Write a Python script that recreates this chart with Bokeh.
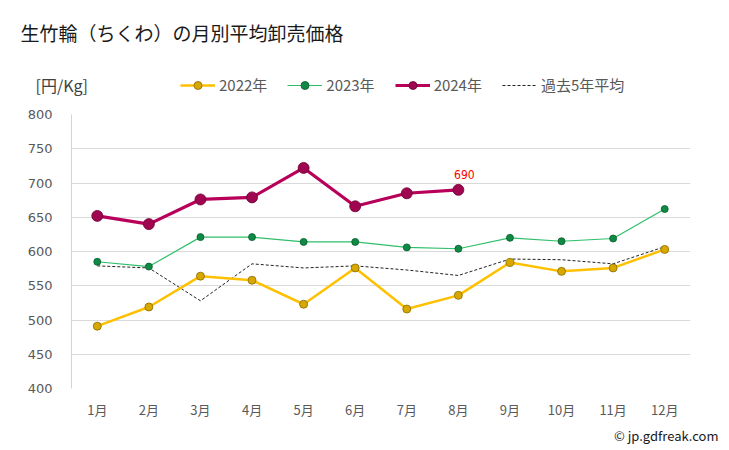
from bokeh.plotting import figure
from bokeh.layouts import column
from bokeh.models import ColumnDataSource, Legend, LegendItem, FactorRange, Title, Label, Range1d
from bokeh.core.properties import value
from bokeh.embed import file_html
from bokeh.resources import INLINE

months = ["1月", "2月", "3月", "4月", "5月", "6月", "7月", "8月", "9月", "10月", "11月", "12月"]
v2022 = [491, 519, 564, 558, 523, 576, 516, 536, 584, 571, 576, 603]
v2023 = [585, 578, 621, 621, 614, 614, 606, 604, 620, 615, 619, 662]
v2024 = [652, 640, 676, 679, 722, 666, 685, 690]
avg5 = [579, 576, 528, 582, 576, 579, 573, 565, 589, 588, 582, 607]
y_ticks = [400, 450, 500, 550, 600, 650, 700, 750, 800]
series_names = ["2022年", "2023年", "2024年", "過去5年平均"]

FONT = "Noto Sans CJK JP"
W = 725
HEAD_H = 100

STY = {
    "2022年": dict(line=dict(line_color="#ffc000", line_width=2.5),
                  mark=dict(size=8, fill_color="#d6a800", line_color="#8a6a00", line_width=0.8)),
    "2023年": dict(line=dict(line_color="#2fbf6a", line_width=1.2),
                  mark=dict(size=7, fill_color="#0e8a45", line_color="#075a2c", line_width=0.8)),
    "2024年": dict(line=dict(line_color="#b8005a", line_width=3.2),
                  mark=dict(size=11, fill_color="#a0054f", line_color="#6a0034", line_width=0.8)),
    "過去5年平均": dict(line=dict(line_color="#222222", line_width=1, line_dash="3 2"), mark=None),
}
data = {"2022年": v2022, "2023年": v2023, "2024年": v2024, "過去5年平均": avg5}

# ---------- header (title, unit, legend) ----------
head = figure(width=W, height=HEAD_H, x_range=Range1d(0, W), y_range=Range1d(HEAD_H, 0),
              x_axis_type=None, y_axis_type=None, output_backend="svg", toolbar_location=None,
              min_border=0, min_border_left=0, min_border_right=0, min_border_top=0, min_border_bottom=0)
head.frame_align = False
head.outline_line_color = None
head.xgrid.visible = False
head.ygrid.visible = False
head.add_layout(Label(x=20, y=32, text="生竹輪（ちくわ）の月別平均卸売価格", text_font=FONT,
                      text_font_size="19px", text_color="#1a1a1a", text_baseline="middle"))
head.add_layout(Label(x=35, y=84, text="[円/Kg]", text_font=FONT, text_font_size="16px",
                      text_color="#404040", text_baseline="middle"))
items = []
for name in series_names:
    st = STY[name]
    vals = data[name]
    # legend swatches: the series' own values, which fall outside the header's range
    rs = [head.line(x=list(range(len(vals))), y=vals, **st["line"])]
    if st["mark"] is not None:
        rs.append(head.scatter(x=list(range(len(vals))), y=vals, **st["mark"]))
    items.append(LegendItem(label=name, renderers=rs))
legend = Legend(items=items, orientation="horizontal", location=(180, 5), glyph_width=35, glyph_height=20,
                label_standoff=4, spacing=20, padding=0, margin=0, border_line_color=None,
                background_fill_alpha=0, label_text_font=FONT, label_text_font_size="15px",
                label_text_color="#595959", label_height=20)
head.add_layout(legend, "center")

# ---------- main chart ----------
p = figure(width=W, height=446 - HEAD_H, x_range=FactorRange(*months), y_range=(400, 800),
           output_backend="svg", toolbar_location=None,
           min_border_left=71, min_border_right=W - 690, min_border_top=114 - HEAD_H,
           min_border_bottom=446 - 388)
p.frame_align = False
p.outline_line_color = None
p.background_fill_color = "white"
p.border_fill_color = "white"

p.xgrid.grid_line_color = None
p.ygrid.grid_line_color = "#d9d9d9"
p.yaxis.ticker = y_ticks
p.yaxis.axis_line_color = "#d8d4c6"
p.yaxis.major_tick_line_color = None
p.yaxis.minor_tick_line_color = None
p.yaxis.major_tick_out = 0
p.yaxis.major_label_standoff = 19
p.yaxis.major_label_text_font = "DejaVu Sans"
p.yaxis.major_label_text_font_size = "13px"
p.yaxis.major_label_text_color = "#595959"
p.xaxis.axis_line_color = None
p.xaxis.major_tick_line_color = None
p.xaxis.major_tick_out = 0
p.xaxis.major_label_standoff = 11
p.xaxis.major_label_text_font = FONT
p.xaxis.major_label_text_font_size = "13px"
p.xaxis.major_label_text_color = "#595959"

order = ["過去5年平均", "2022年", "2023年", "2024年"]
for name in order:
    vals = data[name]
    src = ColumnDataSource(dict(x=months[:len(vals)], y=vals))
    st = STY[name]
    p.line("x", "y", source=src, **st["line"])
    if st["mark"] is not None:
        p.scatter("x", "y", source=src, **st["mark"])

lab = ColumnDataSource(dict(x=[months[len(v2024) - 1]], y=[v2024[-1]], t=[str(v2024[-1])]))
p.text("x", "y", text="t", source=lab, text_color="#ff0000", text_font=value("DejaVu Sans Condensed"),
       text_font_size="12px", x_offset=6, y_offset=-11, text_align="center", text_baseline="bottom")

p.add_layout(Title(text="© jp.gdfreak.com", align="right", offset=-28,
                   text_font=FONT, text_font_size="13px", text_font_style="normal",
                   text_color="#1a1a1a", standoff=4), "below")

layout = column(head, p, spacing=0)
open("out.html", "w").write(file_html(layout, INLINE))
